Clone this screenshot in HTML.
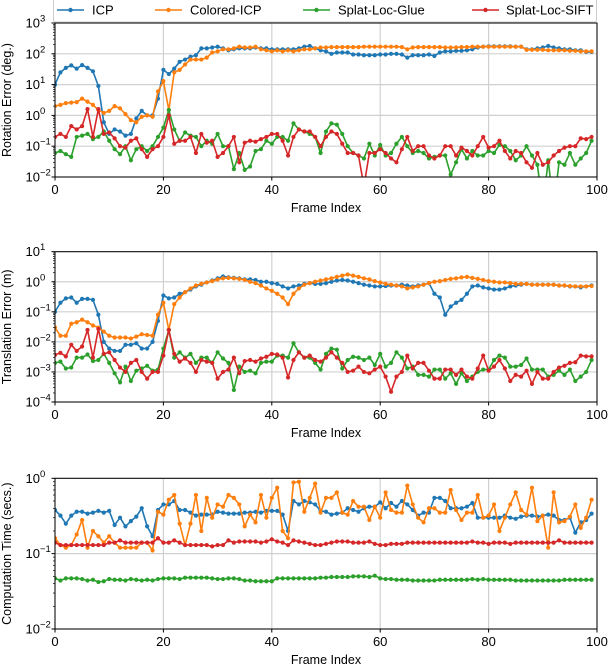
<!DOCTYPE html>
<html><head><meta charset="utf-8"><style>
body{margin:0;background:#fff}
svg{display:block;font-family:"Liberation Sans","DejaVu Sans",sans-serif}
</style></head><body>
<svg id="chart" width="608" height="666" viewBox="0 0 608 666" xmlns="http://www.w3.org/2000/svg">
<defs>
<clipPath id="c1"><rect x="55" y="23" width="542" height="154"/></clipPath>
<clipPath id="c2"><rect x="55" y="251.7" width="542" height="150.3"/></clipPath>
<clipPath id="c3"><rect x="55" y="478.3" width="542" height="150.7"/></clipPath>
</defs>
<g>
<rect x="53.5" y="-1" width="543" height="23" rx="2" fill="#fff" stroke="#ccc"/>
<g><line x1="57" y1="10" x2="84" y2="10" stroke="#1f77b4" stroke-width="1.5"/><circle cx="70.5" cy="10" r="2.2" fill="#1f77b4"/><text x="92" y="14.5" font-size="13">ICP</text></g>
<g><line x1="155" y1="10" x2="182" y2="10" stroke="#ff7f0e" stroke-width="1.5"/><circle cx="168.5" cy="10" r="2.2" fill="#ff7f0e"/><text x="190" y="14.5" font-size="13">Colored-ICP</text></g>
<g><line x1="303" y1="10" x2="330" y2="10" stroke="#2ca02c" stroke-width="1.5"/><circle cx="316.5" cy="10" r="2.2" fill="#2ca02c"/><text x="338" y="14.5" font-size="13">Splat-Loc-Glue</text></g>
<g><line x1="472" y1="10" x2="499" y2="10" stroke="#d62728" stroke-width="1.5"/><circle cx="485.5" cy="10" r="2.2" fill="#d62728"/><text x="506" y="14.5" font-size="13">Splat-Loc-SIFT</text></g>
</g>
</svg>
<script>
const rotICP=[10,25,35,42,33,43,35,27,9,0.6,0.25,0.35,0.3,0.22,0.25,0.8,1.4,1.0,1.0,3.5,30,22,33,55,65,80,90,150,150,160,170,150,130,140,150,150,150,160,150,150,140,140,140,140,140,150,170,180,150,130,120,100,110,110,110,95,95,90,90,90,95,95,100,100,95,75,90,90,90,95,85,110,120,120,125,125,130,140,160,170,175,175,175,175,175,170,170,140,140,150,160,180,160,150,140,140,130,130,115,115];
const rotCICP=[2.0,2.2,2.5,2.6,2.7,3.5,2.8,2.2,1.5,1.2,1.4,2.0,1.7,1.1,0.7,0.6,0.9,1.0,0.9,6,13,1.5,25,30,45,65,65,65,75,110,120,140,140,150,170,160,160,170,140,130,120,130,120,130,120,130,140,140,150,160,160,165,165,165,165,165,165,170,170,170,170,170,170,170,165,140,160,165,165,165,165,165,160,160,160,165,165,170,170,170,170,170,170,170,170,170,170,135,135,135,135,130,130,130,130,125,125,120,120,120];
const rotGlue=[0.06,0.07,0.055,0.045,0.2,0.22,0.25,0.17,0.2,0.3,0.15,0.08,0.055,0.1,0.035,0.08,0.1,0.07,0.1,0.2,0.4,1.5,0.35,0.15,0.28,0.22,0.2,0.1,0.15,0.12,0.25,0.1,0.1,0.018,0.06,0.017,0.022,0.07,0.08,0.15,0.12,0.2,0.2,0.15,0.55,0.35,0.3,0.25,0.2,0.06,0.3,0.55,0.5,0.25,0.1,0.06,0.05,0.04,0.12,0.05,0.11,0.05,0.06,0.12,0.2,0.1,0.06,0.07,0.06,0.04,0.045,0.05,0.05,0.012,0.03,0.08,0.04,0.07,0.05,0.05,0.07,0.06,0.11,0.1,0.07,0.035,0.05,0.1,0.05,0.025,0.001,0.035,0.001,0.03,0.025,0.06,0.025,0.04,0.06,0.15];
const rotSIFT=[0.2,0.25,0.2,0.45,0.35,0.45,1.6,0.2,1.6,0.25,0.28,0.18,0.1,0.09,0.15,0.18,0.08,0.045,0.08,0.1,0.2,1.0,0.12,0.15,0.15,0.2,0.06,0.25,0.13,0.15,0.045,0.06,0.1,0.2,0.03,0.13,0.15,0.14,0.17,0.2,0.25,0.25,0.15,0.05,0.2,0.35,0.3,0.3,0.2,0.1,0.2,0.3,0.25,0.12,0.06,0.06,0.05,0.005,0.06,0.06,0.08,0.06,0.04,0.03,0.08,0.2,0.07,0.1,0.1,0.05,0.04,0.05,0.1,0.1,0.05,0.09,0.07,0.05,0.1,0.2,0.09,0.1,0.15,0.07,0.04,0.07,0.06,0.03,0.02,0.06,0.025,0.03,0.05,0.07,0.09,0.1,0.1,0.18,0.17,0.2];
const trICP=[0.1,0.2,0.28,0.3,0.2,0.27,0.27,0.25,0.08,0.01,0.006,0.005,0.005,0.008,0.008,0.009,0.006,0.006,0.01,0.05,0.35,0.28,0.3,0.4,0.45,0.55,0.7,0.8,0.95,1.1,1.3,1.5,1.4,1.35,1.3,1.2,1.2,1.15,1.0,1.0,0.9,0.85,0.7,0.6,0.7,0.75,0.85,0.9,0.85,0.85,0.9,1.0,1.1,1.15,1.1,1.0,0.9,0.8,0.75,0.7,0.7,0.72,0.75,0.75,0.8,0.75,0.7,0.75,0.8,0.9,0.4,0.3,0.08,0.15,0.2,0.25,0.4,0.7,0.75,0.65,0.6,0.55,0.55,0.6,0.7,0.75,0.8,0.85,0.8,0.8,0.8,0.8,0.8,0.75,0.75,0.7,0.7,0.65,0.7,0.75];
const trCICP=[0.03,0.016,0.016,0.04,0.045,0.055,0.045,0.035,0.03,0.022,0.016,0.014,0.014,0.014,0.013,0.015,0.018,0.017,0.016,0.08,0.2,0.025,0.18,0.3,0.45,0.6,0.75,0.85,0.95,1.05,1.2,1.3,1.35,1.3,1.25,1.15,1.0,0.9,0.75,0.6,0.5,0.4,0.3,0.18,0.4,0.6,0.8,0.9,1.0,1.1,1.2,1.3,1.45,1.6,1.75,1.6,1.45,1.3,1.2,1.05,0.95,0.85,0.8,0.75,0.7,0.6,0.65,0.7,0.8,0.9,1.0,1.05,1.15,1.25,1.3,1.4,1.45,1.35,1.25,1.15,1.05,1.0,0.95,0.95,0.9,0.85,0.85,0.85,0.8,0.8,0.8,0.8,0.8,0.75,0.75,0.72,0.7,0.7,0.7,0.72];
const trGlue=[0.002,0.0022,0.0013,0.0014,0.003,0.003,0.0038,0.0023,0.0025,0.004,0.002,0.0009,0.00045,0.0015,0.0005,0.0011,0.0013,0.0016,0.0011,0.0012,0.006,0.025,0.003,0.0045,0.003,0.004,0.002,0.003,0.003,0.002,0.0045,0.0028,0.002,0.00025,0.0015,0.001,0.0011,0.0009,0.002,0.0022,0.0022,0.0035,0.0035,0.003,0.009,0.0045,0.003,0.003,0.002,0.0012,0.004,0.006,0.0055,0.0013,0.0025,0.0032,0.003,0.0025,0.003,0.0017,0.004,0.0015,0.002,0.0045,0.003,0.0013,0.0015,0.0008,0.0008,0.0007,0.0012,0.0012,0.0006,0.0009,0.0004,0.0009,0.0005,0.0007,0.001,0.0012,0.0012,0.0025,0.0035,0.003,0.0015,0.0015,0.0017,0.0028,0.0012,0.0012,0.0012,0.0007,0.0008,0.0011,0.0008,0.0012,0.0005,0.0007,0.001,0.0025];
const trSIFT=[0.0037,0.0043,0.0033,0.008,0.005,0.007,0.025,0.003,0.027,0.004,0.0045,0.0025,0.0014,0.001,0.002,0.0025,0.001,0.0006,0.001,0.001,0.0035,0.025,0.004,0.0022,0.0028,0.002,0.001,0.0025,0.0022,0.002,0.0006,0.001,0.0012,0.003,0.0009,0.0023,0.0025,0.0022,0.0028,0.0032,0.004,0.0038,0.003,0.00065,0.0025,0.0045,0.003,0.0035,0.0025,0.0022,0.003,0.0045,0.003,0.002,0.001,0.0011,0.0015,0.001,0.0009,0.0012,0.0015,0.0007,0.00022,0.0007,0.001,0.0035,0.0013,0.002,0.002,0.0011,0.0006,0.0006,0.0012,0.0012,0.0008,0.0012,0.0007,0.0006,0.0013,0.0035,0.0011,0.0015,0.0025,0.0013,0.0005,0.0008,0.0007,0.0011,0.0004,0.001,0.0006,0.0006,0.001,0.0014,0.0016,0.002,0.0021,0.0035,0.0033,0.0033];
const ctICP=[0.38,0.32,0.25,0.32,0.36,0.36,0.34,0.35,0.37,0.35,0.37,0.24,0.3,0.23,0.27,0.31,0.4,0.23,0.17,0.38,0.45,0.45,0.5,0.38,0.38,0.35,0.32,0.33,0.33,0.33,0.36,0.35,0.34,0.34,0.34,0.35,0.35,0.36,0.35,0.37,0.37,0.37,0.33,0.2,0.5,0.45,0.5,0.48,0.45,0.37,0.36,0.33,0.34,0.35,0.4,0.38,0.36,0.4,0.42,0.42,0.48,0.4,0.47,0.42,0.5,0.45,0.38,0.32,0.35,0.35,0.55,0.55,0.5,0.4,0.4,0.4,0.42,0.47,0.3,0.3,0.3,0.3,0.3,0.32,0.3,0.29,0.31,0.32,0.32,0.31,0.32,0.33,0.32,0.28,0.28,0.3,0.19,0.26,0.28,0.34];
const ctCICP=[0.16,0.13,0.12,0.13,0.18,0.28,0.12,0.2,0.17,0.14,0.17,0.14,0.12,0.12,0.12,0.12,0.14,0.14,0.11,0.36,0.33,0.52,0.6,0.25,0.13,0.25,0.6,0.2,0.55,0.3,0.45,0.42,0.6,0.55,0.45,0.23,0.33,0.26,0.6,0.3,0.55,0.75,0.2,0.16,0.88,0.9,0.36,0.55,0.85,0.35,0.55,0.55,0.65,0.35,0.33,0.5,0.42,0.42,0.28,0.42,0.3,0.65,0.38,0.35,0.35,0.8,0.45,0.3,0.26,0.4,0.4,0.35,0.35,0.7,0.38,0.28,0.35,0.35,0.6,0.3,0.32,0.45,0.2,0.3,0.45,0.65,0.38,0.33,0.75,0.27,0.32,0.12,0.65,0.26,0.27,0.31,0.45,0.22,0.3,0.52];
const ctGlue=[0.047,0.044,0.047,0.047,0.047,0.046,0.044,0.045,0.042,0.043,0.046,0.045,0.045,0.044,0.046,0.045,0.044,0.045,0.044,0.046,0.047,0.047,0.047,0.046,0.048,0.048,0.048,0.048,0.048,0.047,0.046,0.046,0.047,0.047,0.046,0.044,0.044,0.043,0.043,0.043,0.043,0.047,0.047,0.047,0.047,0.047,0.047,0.047,0.047,0.048,0.048,0.049,0.049,0.049,0.049,0.05,0.05,0.05,0.049,0.051,0.047,0.046,0.046,0.045,0.045,0.045,0.044,0.044,0.044,0.044,0.044,0.045,0.045,0.045,0.045,0.045,0.045,0.046,0.045,0.046,0.045,0.045,0.045,0.045,0.045,0.044,0.044,0.044,0.044,0.044,0.044,0.044,0.044,0.044,0.045,0.045,0.045,0.045,0.045,0.045];
const ctSIFT=[0.14,0.13,0.13,0.13,0.13,0.13,0.13,0.13,0.13,0.13,0.14,0.14,0.15,0.14,0.14,0.14,0.14,0.14,0.14,0.16,0.14,0.14,0.15,0.14,0.13,0.13,0.13,0.13,0.13,0.125,0.13,0.13,0.15,0.14,0.145,0.145,0.145,0.145,0.14,0.145,0.155,0.145,0.14,0.13,0.15,0.145,0.14,0.135,0.13,0.13,0.135,0.14,0.145,0.145,0.145,0.14,0.14,0.14,0.145,0.135,0.13,0.13,0.135,0.135,0.135,0.14,0.14,0.14,0.14,0.14,0.14,0.14,0.14,0.14,0.14,0.14,0.14,0.145,0.14,0.14,0.135,0.14,0.14,0.14,0.135,0.14,0.14,0.14,0.14,0.14,0.14,0.14,0.14,0.15,0.14,0.14,0.14,0.14,0.14,0.14];
const xTicks=[0,20,40,60,80,100];
const seriesColors=['#1f77b4','#ff7f0e','#2ca02c','#d62728'];
const seriesNames=['icp','colored-icp','splat-loc-glue','splat-loc-sift'];

const NS='http://www.w3.org/2000/svg';
const svg=document.getElementById('chart');
function mk(tag,attrs,parent){const e=document.createElementNS(NS,tag);for(const k in attrs)e.setAttribute(k,attrs[k]);(parent||svg).appendChild(e);return e;}

function panel(id,top,bottom,dMax,dMin,ylabel,series,clip){
  const x0=55,x1=597;
  const g=mk('g',{});
  
  
  const xs=v=>x0+(v/100)*(x1-x0);
  const ys=v=>top+(dMax-Math.log10(v))/(dMax-dMin)*(bottom-top);
  xTicks.forEach(t=>{mk('line',{x1:xs(t),x2:xs(t),y1:top,y2:bottom,stroke:'#d0d0d0','stroke-width':1.2},g);});
  for(let d=dMin;d<=dMax;d++){mk('line',{x1:x0,x2:x1,y1:ys(Math.pow(10,d)),y2:ys(Math.pow(10,d)),stroke:'#d0d0d0','stroke-width':1.2},g);}
  series.forEach((arr,si)=>{
    const sg=mk('g',{'clip-path':'url(#'+clip+')'},g);
    
    
    const pts=arr.map((v,i)=>xs(i).toFixed(2)+','+ys(v).toFixed(2)).join(' ');
    mk('polyline',{points:pts,fill:'none',stroke:seriesColors[si],'stroke-width':1.6,'stroke-linejoin':'round'},sg);
    arr.forEach((v,i)=>{const c=mk('circle',{cx:xs(i),cy:ys(v),r:2.1,fill:seriesColors[si]},sg);
      
      });
  });
  const fr=mk('rect',{x:x0,y:top,width:x1-x0,height:bottom-top,fill:'none',stroke:'#000','stroke-width':1},g);
  
  
  xTicks.forEach(t=>{mk('line',{x1:xs(t),x2:xs(t),y1:bottom,y2:bottom+3.5,stroke:'#000'},g);
    const tx=mk('text',{x:xs(t),y:bottom+17,'font-size':13,'text-anchor':'middle'},g);tx.textContent=t;
    
    });
  const xl=mk('text',{x:(x0+x1)/2,y:bottom+35,'font-size':12.5,'text-anchor':'middle'},g);xl.textContent='Frame Index';
  
  
  for(let d=dMin;d<=dMax;d++){const y=ys(Math.pow(10,d));
    mk('line',{x1:x0-3.5,x2:x0,y1:y,y2:y,stroke:'#000'},g);
    const tx=mk('text',{x:x0-15,y:y+4.5,'font-size':13,'text-anchor':'end'},g);tx.textContent='10';
    
    
    const sp=mk('text',{x:x0-15,y:y-1.5,'font-size':9.5,'text-anchor':'start'},g);sp.textContent=d<0?'\u2212'+(-d):String(d);
    if(d<dMax){for(let m=2;m<10;m++){const ym=ys(m*Math.pow(10,d));mk('line',{x1:x0-2,x2:x0,y1:ym,y2:ym,stroke:'#000','stroke-width':0.7},g);}}
  }
  const yc=(top+bottom)/2;
  const yl=mk('text',{x:11,y:yc,'font-size':12.5,'text-anchor':'middle',transform:'rotate(-90 11 '+yc+')'},g);yl.textContent=ylabel;
  
  
}
panel('rotation',23,177,3,-2,'Rotation Error (deg.)',[rotICP,rotCICP,rotGlue,rotSIFT],'c1');
panel('translation',251.7,402,1,-4,'Translation Error (m)',[trICP,trCICP,trGlue,trSIFT],'c2');
panel('computation',478.3,629,0,-2,'Computation Time (secs.)',[ctICP,ctCICP,ctGlue,ctSIFT],'c3');
</script>
</body></html>
